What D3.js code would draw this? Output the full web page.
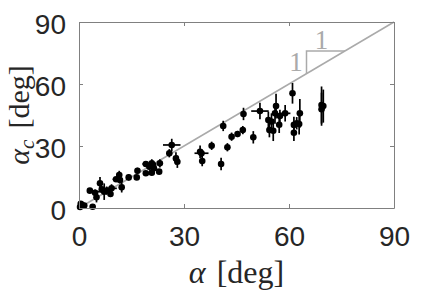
<!DOCTYPE html>
<html>
<head>
<meta charset="utf-8">
<script src="https://cdn.jsdelivr.net/npm/d3@7"></script>
<style>
  body { margin: 0; background: #fff; }
  svg { display: block; }
</style>
</head>
<body>
<svg id="chart" width="436" height="291"></svg>
<script>
(function () {
  'use strict';

  // measured angle alpha [deg] and error
  var alpha = [0.3, 0.8, 1.5, 0.5, 3.9, 3.1, 4.6, 5.0, 6.0, 6.5, 7.2, 7.9, 9.0, 9.3, 10.6,
    11.5, 11.7, 12.2, 14.2, 16.5, 16.7, 19.1, 19.1, 20.1, 20.8, 20.8, 21.2, 21.4, 22.9, 23.1,
    25.8, 26.5, 27.7, 28.1, 34.6, 35.0, 35.2, 37.9, 40.6, 41.2, 42.4, 43.6, 45.3, 46.8, 47.0,
    49.8, 51.7, 54.1, 54.4, 55.0, 55.5, 56.0, 56.3, 57.2, 57.4, 58.9, 61.0, 61.4, 61.4, 62.2,
    62.9, 63.1, 69.3, 69.3, 69.8];
  var alphaErr = [0, 0, 0, 0, 0, 0, 0, 0, 0, 0, 2, 1.5, 0, 1.5, 1,
    0, 0, 0, 0, 0, 0, 0, 1, 0, 0, 0, 0, 0, 0, 0,
    0, 2.5, 0, 0, 0, 2, 0, 0, 0, 0, 0, 0, 0, 0, 0,
    0, 2.5, 0, 0, 0, 0, 0, 0, 0, 0, 1.5, 0, 0, 0, 0,
    0, 0, 0, 0, 0];
  // critical angle alpha_c [deg] and error
  var alphaC = [0.5, 1.5, 1.2, 2.0, 0.6, 8.4, 7.4, 5.2, 12.0, 9.0, 7.9, 8.4, 6.8, 9.5, 13.9,
    16.0, 13.5, 10.0, 14.8, 14.8, 18.0, 16.8, 21.3, 20.0, 21.6, 17.1, 20.8, 19.2, 17.6, 21.6,
    26.5, 30.5, 24.0, 22.4, 27.2, 26.5, 22.7, 30.1, 21.3, 39.7, 29.4, 34.5, 35.8, 37.7, 45.5,
    34.2, 46.9, 42.6, 37.7, 41.8, 37.4, 45.8, 49.3, 40.3, 44.5, 45.8, 55.5, 40.2, 36.4, 41.0,
    40.6, 45.8, 49.8, 47.8, 49.3];
  var alphaCErr = [1, 1, 1, 1, 0, 0, 1.5, 2.5, 3, 1.5, 4, 2, 1.5, 2, 1,
    2, 1.5, 2.5, 1.5, 1, 1.5, 1, 1.5, 1.5, 2, 1, 2, 2, 1, 2,
    2, 3, 3, 3, 3, 2, 2.5, 2, 3, 2.5, 2, 2, 1.5, 2, 3,
    3, 4, 4, 3.5, 4, 5, 5, 6, 4, 3, 4, 5, 4, 4, 3,
    5, 7, 9, 8, 8];

  var xTicks = [0, 30, 60, 90];
  var yTicks = [0, 30, 60, 90];
  var domainMax = 90;

  // slope triangle and its labels
  var triX = [65, 65, 76];
  var triY = [65, 76, 76];
  var slopeLabels = [
    {text: '1', x: 62, y: 66.3},
    {text: '1', x: 69.3, y: 77}
  ];

  var margin = {left: 79, top: 22, right: 42, bottom: 83};
  var width = 436, height = 291;
  var svg = d3.select('#chart');

  var x = d3.scaleLinear().domain([0, domainMax]).range([margin.left, width - margin.right]);
  var y = d3.scaleLinear().domain([0, domainMax]).range([height - margin.bottom, margin.top]);

  var points = alpha.map(function (a, i) {
    return {x: a, y: alphaC[i], ex: alphaErr[i], ey: alphaCErr[i]};
  });

  var axisColor = '#808080';
  var guideColor = '#aaaaaa';
  var textColor = '#262626';
  var serif = 'Liberation Serif, serif';

  // y = x guide
  svg.append('line')
    .attr('x1', x(0)).attr('y1', y(0))
    .attr('x2', x(domainMax)).attr('y2', y(domainMax))
    .attr('stroke', guideColor)
    .attr('stroke-width', 1.5);

  svg.append('path')
    .datum(d3.zip(triX, triY))
    .attr('d', d3.line().x(function (d) { return x(d[0]); }).y(function (d) { return y(d[1]); }))
    .attr('fill', 'none')
    .attr('stroke', guideColor)
    .attr('stroke-width', 1.5);

  svg.selectAll('text.slope')
    .data(slopeLabels)
    .enter()
    .append('text')
    .attr('class', 'slope')
    .attr('x', function (d) { return x(d.x); })
    .attr('y', function (d) { return y(d.y); })
    .attr('text-anchor', 'middle')
    .attr('font-family', serif)
    .attr('font-size', 27)
    .attr('fill', guideColor)
    .text(function (d) { return d.text; });

  // error bars
  var g = svg.append('g');
  g.selectAll('line.ey')
    .data(points.filter(function (d) { return d.ey > 0; }))
    .enter()
    .append('line')
    .attr('x1', function (d) { return x(d.x); })
    .attr('x2', function (d) { return x(d.x); })
    .attr('y1', function (d) { return y(d.y - d.ey); })
    .attr('y2', function (d) { return y(d.y + d.ey); })
    .attr('stroke', '#000')
    .attr('stroke-width', 1.7);
  g.selectAll('line.ex')
    .data(points.filter(function (d) { return d.ex > 0; }))
    .enter()
    .append('line')
    .attr('x1', function (d) { return x(d.x - d.ex); })
    .attr('x2', function (d) { return x(d.x + d.ex); })
    .attr('y1', function (d) { return y(d.y); })
    .attr('y2', function (d) { return y(d.y); })
    .attr('stroke', '#000')
    .attr('stroke-width', 1.7);
  g.selectAll('circle')
    .data(points)
    .enter()
    .append('circle')
    .attr('cx', function (d) { return x(d.x); })
    .attr('cy', function (d) { return y(d.y); })
    .attr('r', 3.3)
    .attr('fill', '#000');

  // box with inward ticks on all sides
  var plotW = x.range()[1] - x.range()[0];
  var plotH = y.range()[0] - y.range()[1];
  var tickLen = 4;

  function styleAxis(sel) {
    sel.select('.domain').attr('stroke', axisColor);
    sel.selectAll('.tick line').attr('stroke', axisColor);
    sel.selectAll('.tick text')
      .attr('fill', textColor)
      .attr('font-family', 'Liberation Sans, Arial, sans-serif')
      .attr('font-size', 28);
  }

  var xAxis = svg.append('g')
    .attr('transform', 'translate(0,' + y(0) + ')')
    .call(d3.axisBottom(x).tickValues(xTicks).tickSizeInner(-tickLen).tickSizeOuter(0).tickPadding(18));
  styleAxis(xAxis);

  var xTop = svg.append('g')
    .attr('transform', 'translate(0,' + y(domainMax) + ')')
    .call(d3.axisTop(x).tickValues(xTicks).tickSizeInner(-tickLen).tickSizeOuter(0).tickFormat(''));
  styleAxis(xTop);

  var yAxis = svg.append('g')
    .attr('transform', 'translate(' + x(0) + ',0)')
    .call(d3.axisLeft(y).tickValues(yTicks).tickSizeInner(-tickLen).tickSizeOuter(0).tickPadding(13));
  styleAxis(yAxis);
  yAxis.selectAll('.tick text').attr('dy', '0.4em');

  var yRight = svg.append('g')
    .attr('transform', 'translate(' + x(domainMax) + ',0)')
    .call(d3.axisRight(y).tickValues(yTicks).tickSizeInner(-tickLen).tickSizeOuter(0).tickFormat(''));
  styleAxis(yRight);

  // axis titles
  var xTitle = svg.append('text')
    .attr('x', x.range()[0] + plotW / 2)
    .attr('y', 283)
    .attr('text-anchor', 'middle')
    .attr('font-family', serif)
    .attr('font-size', 32)
    .attr('fill', textColor);
  xTitle.append('tspan').attr('font-style', 'italic').text('α');
  xTitle.append('tspan').attr('dx', 11).text('[deg]');

  var yTitle = svg.append('text')
    .attr('transform', 'translate(29,' + (y.range()[1] + plotH / 2) + ') rotate(-90)')
    .attr('text-anchor', 'middle')
    .attr('font-family', serif)
    .attr('font-size', 30)
    .attr('fill', textColor);
  yTitle.append('tspan').attr('font-style', 'italic').text('α');
  yTitle.append('tspan').attr('font-style', 'italic').attr('font-size', 21).attr('dy', 5).text('c');
  yTitle.append('tspan').attr('dx', 11).attr('dy', -5).text('[deg]');
}());
</script>
</body>
</html>
